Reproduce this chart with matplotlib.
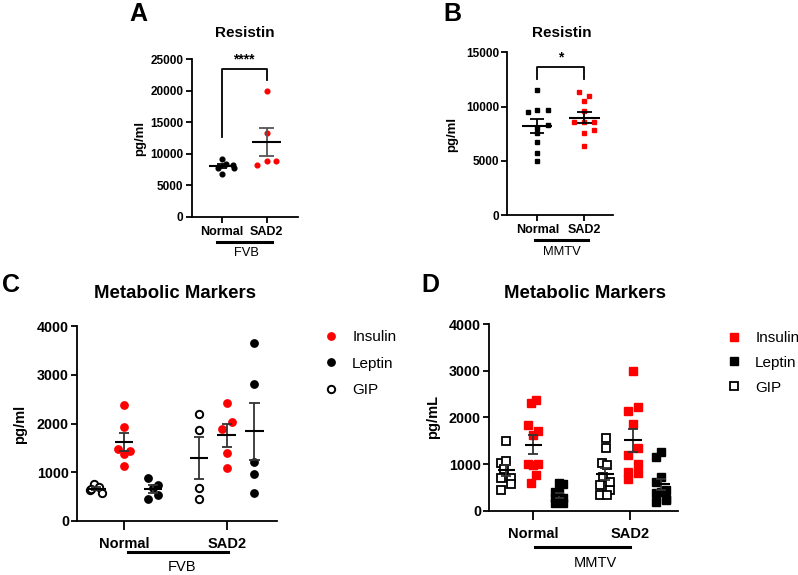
import numpy as np
import matplotlib
matplotlib.use('Agg')
import matplotlib.pyplot as plt
import matplotlib.transforms as mtransforms
from matplotlib.lines import Line2D

plt.rcParams['font.family'] = ['Liberation Sans', 'DejaVu Sans']

# ---------------- data ----------------
groups = ['Normal', 'SAD2']

# A: Resistin, FVB
a_normal = [9150, 8300, 8140, 7780, 7780, 6760]
a_sad2 = [20000, 13370, 8250, 8900, 8900]
# B: Resistin, MMTV
b_normal = [11570, 9510, 9670, 9670, 8290, 7980, 7520, 6750, 5740, 5000]
b_sad2 = [11300, 10960, 10470, 9580, 8540, 8540, 8540, 7800, 7580, 6350]

# C: metabolic markers, FVB
c_gip_n = [640, 750, 690, 580, 650]
c_ins_n = [2386, 1921, 1477, 1436, 1374, 1135]
c_lep_n = [889, 738, 670, 451, 533]
c_gip_s = [2188, 1867, 670, 444]
c_ins_s = [2414, 2038, 1880, 1402, 1080]
c_lep_s = [3644, 2810, 1217, 957, 568]

# D: metabolic markers, MMTV
d_gip_n = [1500, 1030, 1070, 890, 700, 710, 570, 440]
d_ins_n = [2300, 2371, 1836, 1707, 1621, 993, 993, 764, 600, 980]
d_lep_n = [586, 564, 371, 264, 264, 193, 157, 157, 300, 407]
d_gip_s = [1564, 1336, 1014, 979, 729, 550, 443, 336, 336, 620]
d_ins_s = [3000, 2136, 2229, 1857, 1350, 1193, 993, 836, 800, 671]
d_lep_s = [1264, 1157, 729, 621, 443, 371, 407, 229, 193, 250]

# ---------------- layout helpers (scatter spread of points) ----------------
a_normal_dx = [0, 0.1, 0.26, -0.09, 0.28, 0]
a_sad2_dx = [0, 0, -0.21, 0, 0.21]
b_normal_dx = [0, -0.19, 0, 0.22, 0.22, 0, 0, 0, 0, 0]
b_sad2_dx = [-0.11, 0.11, 0, 0, -0.21, 0, 0.21, 0.21, 0, 0]

c_gip_n_dx = [-0.06, -0.02, 0.03, 0.06, -0.05]
c_ins_n_dx = [0, 0, -0.06, 0.06, 0, 0]
c_lep_n_dx = [-0.05, 0.05, 0, -0.05, 0.05]
c_gip_s_dx = [0, 0, 0, 0]
c_ins_s_dx = [0, 0.05, -0.05, 0, 0]
c_lep_s_dx = [0, 0, 0, 0, 0]

d_gip_n_dx = [0, -0.05, 0, -0.02, -0.05, 0.05, 0.05, -0.05]
d_ins_n_dx = [-0.024, 0.028, -0.05, 0.05, 0, -0.05, 0.05, 0.028, -0.024, 0]
d_lep_n_dx = [0, 0.04, 0, -0.045, 0.04, 0, -0.045, 0.04, 0, -0.045]
d_gip_s_dx = [0.01, 0.01, -0.03, 0.02, -0.02, -0.05, 0.05, -0.05, 0.02, 0.05]
d_ins_s_dx = [0, -0.05, 0.05, 0, 0.05, -0.05, 0.05, -0.05, 0.05, -0.05]
d_lep_s_dx = [0, -0.05, 0, -0.05, 0.05, -0.05, 0, 0.05, -0.05, 0.05]

RED = '#ff0000'
W, H = 798, 575
fig = plt.figure(figsize=(W / 100, H / 100), dpi=100)


def box(l, t, r, b):
    return [l / W, 1 - b / H, (r - l) / W, (b - t) / H]


def ftext(x, y, s, **kw):
    fig.text(x / W, 1 - y / H, s, ha='center', va='center', **kw)


def style(ax, tsize, xsize, xpad):
    for s in ['top', 'right']:
        ax.spines[s].set_visible(False)
    for s in ['left', 'bottom']:
        ax.spines[s].set_linewidth(1.3)
    ax.tick_params(axis='y', width=1.3, length=4.5, labelsize=tsize, pad=1.5)
    ax.tick_params(axis='x', width=1.3, length=4.5, labelsize=xsize, pad=xpad)
    for lab in ax.get_yticklabels() + ax.get_xticklabels():
        lab.set_fontweight('bold')


def dots(ax, x0, vals, dx, **kw):
    ax.plot(x0 + np.array(dx), vals, ls='none', zorder=2, clip_on=False, **kw)


def mean_sem(ax, x0, vals, hw, cw, col='black', lw=1.3):
    m = np.mean(vals)
    s = np.std(vals, ddof=1) / np.sqrt(len(vals))
    ax.vlines(x0, m - s, m + s, color=col, lw=lw, zorder=4)
    ax.hlines([m - s, m + s], x0 - cw, x0 + cw, color=col, lw=lw, zorder=4)
    ax.hlines(m, x0 - hw, x0 + hw, color='black', lw=lw + 0.2, zorder=5)


def group_line(ax, x1, x2, y, label, ly, lx, size):
    tr = mtransforms.blended_transform_factory(ax.transData, ax.transAxes)
    ax.plot([x1, x2], [y, y], color='black', lw=2.2, transform=tr, clip_on=False)
    ax.text(lx, ly, label, transform=tr, ha='center', va='center', fontsize=size)


# ---------------- A ----------------
axA = fig.add_axes(box(191.7, 59.3, 298, 216.7))
dots(axA, 1, a_normal, a_normal_dx, marker='o', ms=3.4, color='black')
dots(axA, 2, a_sad2, a_sad2_dx, marker='o', ms=3.4, color=RED)
mean_sem(axA, 1, a_normal, 0.29, 0.11)
mean_sem(axA, 2, a_sad2, 0.32, 0.17, col='#555555')
axA.set_xlim(0.333, 2.70)
axA.set_ylim(0, 25000)
axA.set_yticks(np.arange(0, 25001, 5000))
axA.set_xticks([1, 2])
axA.set_xticklabels(groups)
style(axA, 8.5, 9, 2.0)
axA.plot([1, 1, 2, 2], [12700, 23460, 23460, 21700], color='black', lw=1.3, clip_on=False)
axA.text(1.5, 25000, '****', ha='center', va='center', fontsize=10, fontweight='bold')
group_line(axA, 0.9, 2.11, -0.161, 'FVB', -0.229, 1.55, 9.3)

# ---------------- B ----------------
axB = fig.add_axes(box(507.3, 52.3, 613, 215))
dots(axB, 1, b_normal, b_normal_dx, marker='s', ms=3.4, color='black')
dots(axB, 2, b_sad2, b_sad2_dx, marker='s', ms=3.4, color=RED)
mean_sem(axB, 1, b_normal, 0.32, 0.15)
mean_sem(axB, 2, b_sad2, 0.33, 0.16)
axB.set_xlim(0.362, 2.61)
axB.set_ylim(0, 15000)
axB.set_yticks(np.arange(0, 15001, 5000))
axB.set_xticks([1, 2])
axB.set_xticklabels(groups)
style(axB, 8.5, 9, 2.0)
axB.plot([1, 1, 2, 2], [12540, 13670, 13670, 12540], color='black', lw=1.3, clip_on=False)
axB.text(1.5, 14500, '*', ha='center', va='center', fontsize=10, fontweight='bold')
group_line(axB, 0.95, 2.08, -0.154, 'MMTV', -0.226, 1.52, 9.3)

# ---------------- C ----------------
axC = fig.add_axes(box(77.3, 326, 276.7, 521))
cn = [1 - 0.27, 1, 1 + 0.28]
cs = [2 - 0.27, 2, 2 + 0.27]
circ = dict(marker='o', ms=5.3)
dots(axC, cn[0], c_gip_n, c_gip_n_dx, mfc='white', mec='black', mew=1.4, **circ)
dots(axC, cn[1], c_ins_n, c_ins_n_dx, color=RED, **circ)
dots(axC, cn[2], c_lep_n, c_lep_n_dx, color='black', **circ)
dots(axC, cs[0], c_gip_s, c_gip_s_dx, mfc='white', mec='black', mew=1.4, **circ)
dots(axC, cs[1], c_ins_s, c_ins_s_dx, color=RED, **circ)
dots(axC, cs[2], c_lep_s, c_lep_s_dx, color='black', **circ)
for x0, v in zip(cn + cs, [c_gip_n, c_ins_n, c_lep_n, c_gip_s, c_ins_s, c_lep_s]):
    mean_sem(axC, x0, v, 0.09, 0.05, col='#333333')
axC.set_xlim(0.545, 2.487)
axC.set_ylim(0, 4000)
axC.set_yticks(np.arange(0, 4001, 1000))
axC.set_xticks([1, 2])
axC.set_xticklabels(groups)
style(axC, 10.3, 10.5, 5.0)
axC.tick_params(axis='x', length=6.5)
group_line(axC, 1.036, 2.013, -0.159, 'FVB', -0.236, 1.56, 10.5)
hC = [Line2D([], [], ls='none', marker='o', ms=5.3, color=RED),
      Line2D([], [], ls='none', marker='o', ms=5.3, color='black'),
      Line2D([], [], ls='none', marker='o', ms=5.3, mfc='white', mec='black', mew=1.4)]
fig.legend(hC, ['Insulin', 'Leptin', 'GIP'], loc='upper left',
           bbox_to_anchor=(317 / W, 1 - 324 / H), frameon=False, fontsize=11,
           handlelength=1.0, handletextpad=0.9, labelspacing=0.82, borderaxespad=0)

# ---------------- D ----------------
axD = fig.add_axes(box(489.3, 324, 678, 510.7))
dn = [1 - 0.28, 1, 1 + 0.27]
ds = [2 - 0.26, 2 + 0.03, 2 + 0.32]
sq = dict(marker='s', ms=5.2)
dots(axD, dn[0], d_gip_n, d_gip_n_dx, mfc='white', mec='black', mew=1.3, **sq)
dots(axD, dn[1], d_ins_n, d_ins_n_dx, color=RED, **sq)
dots(axD, dn[2], d_lep_n, d_lep_n_dx, color='black', **sq)
dots(axD, ds[0], d_gip_s, d_gip_s_dx, mfc='white', mec='black', mew=1.3, **sq)
dots(axD, ds[1], d_ins_s, d_ins_s_dx, color=RED, **sq)
dots(axD, ds[2], d_lep_s, d_lep_s_dx, color='black', **sq)
for x0, v in zip(dn + ds, [d_gip_n, d_ins_n, d_lep_n, d_gip_s, d_ins_s, d_lep_s]):
    mean_sem(axD, x0, v, 0.09, 0.05, col='#333333')
axD.set_xlim(0.545, 2.496)
axD.set_ylim(0, 4000)
axD.set_yticks(np.arange(0, 4001, 1000))
axD.set_xticks([1, 2])
axD.set_xticklabels(groups)
style(axD, 10.3, 10.5, 5.0)
axD.tick_params(axis='x', length=6.5)
group_line(axD, 1.02, 2.0, -0.193, 'MMTV', -0.28, 1.64, 10.5)
hD = [Line2D([], [], ls='none', marker='s', ms=5.2, color=RED),
      Line2D([], [], ls='none', marker='s', ms=5.2, color='black'),
      Line2D([], [], ls='none', marker='s', ms=5.2, mfc='white', mec='black', mew=1.3)]
fig.legend(hD, ['Insulin', 'Leptin', 'GIP'], loc='upper left',
           bbox_to_anchor=(720 / W, 1 - 325 / H), frameon=False, fontsize=11,
           handlelength=1.0, handletextpad=0.9, labelspacing=0.7, borderaxespad=0)

# ---------------- titles, letters, y labels ----------------
ftext(245, 33, 'Resistin', fontsize=11, fontweight='bold')
ftext(561.7, 33, 'Resistin', fontsize=11, fontweight='bold')
ftext(175, 293, 'Metabolic Markers', fontsize=13.4, fontweight='bold')
ftext(585, 293, 'Metabolic Markers', fontsize=13.4, fontweight='bold')
for x, y, s in [(138, 14, 'A'), (452, 14, 'B'), (11, 285, 'C'), (430, 285, 'D')]:
    ftext(x, y, s, fontsize=18, fontweight='bold')
ftext(140, 138, 'pg/ml', fontsize=9.5, fontweight='bold', rotation=90)
ftext(452, 134, 'pg/ml', fontsize=9.5, fontweight='bold', rotation=90)
ftext(20, 424, 'pg/ml', fontsize=10.5, fontweight='bold', rotation=90)
ftext(433, 417, 'pg/mL', fontsize=10.5, fontweight='bold', rotation=90)

fig.savefig('out.png', dpi=100)
